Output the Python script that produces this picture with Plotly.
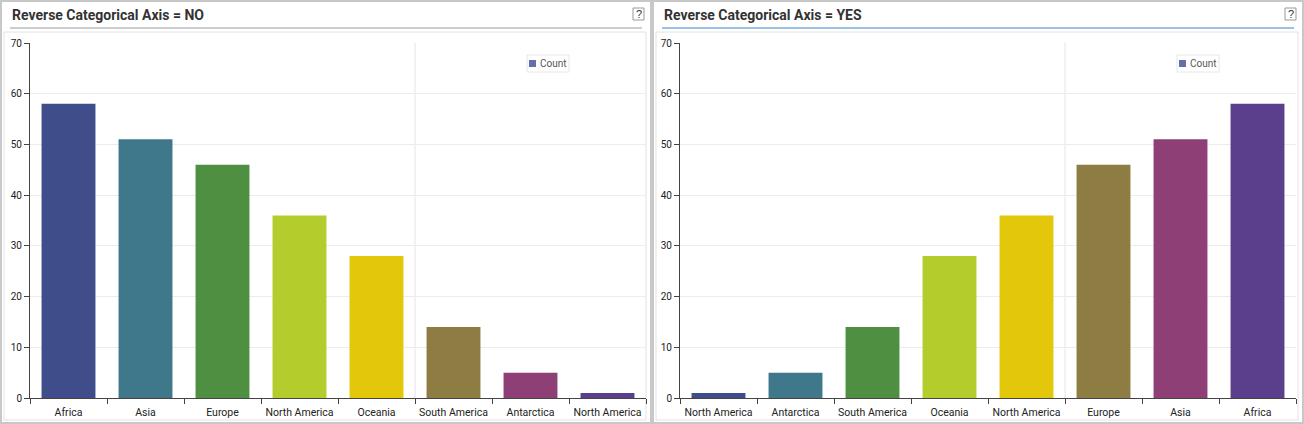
import plotly.graph_objects as go

categories = ["Africa", "Asia", "Europe", "North America", "Oceania",
              "South America", "Antarctica", "North America"]
counts = [58, 51, 46, 36, 28, 14, 5, 1]
colors = ["#3F4E8A", "#3F788A", "#4F8F41", "#B4CD2C", "#E3C70A",
          "#8E7D42", "#8E3F75", "#5B3F8C"]
titles = ["Reverse Categorical Axis = NO", "Reverse Categorical Axis = YES"]
legend_color = "#6670A8"
y_ticks = [0, 10, 20, 30, 40, 50, 60, 70]

W, H = 1304, 424
def px(x):
    return x / W
def py(y):
    return 1 - y / H

fig = go.Figure()
panels = [
    dict(cats=categories, vals=counts, xa="x", ya="y", x0=0, axx=30),
    dict(cats=categories[::-1], vals=counts[::-1], xa="x2", ya="y2", x0=652, axx=680),
]
n = len(categories)
shapes = []
annotations = []
for i, p in enumerate(panels):
    xs = list(range(n))
    fig.add_trace(go.Bar(x=xs, y=p["vals"], marker=dict(color=colors, line=dict(width=0)),
                         width=0.70, xaxis=p["xa"], yaxis=p["ya"], showlegend=False,
                         hovertemplate="%{text}: %{y}<extra></extra>", text=p["cats"],
                         textposition="none"))
    ax_suffix = "" if i == 0 else "2"
    fig.update_layout(**{
        "xaxis" + ax_suffix: dict(
            domain=[px(p["axx"]), px(p["axx"] + 616)], anchor="y" + ax_suffix,
            range=[-0.5, n - 0.5], tickmode="array", tickvals=xs, ticktext=p["cats"],
            ticks="", showgrid=False, zeroline=False, showline=True, linecolor="#444",
            linewidth=1, tickfont=dict(family="Roboto, Arial", size=10.5, color="#222"),
            ticklabelstandoff=4,
            minor=dict(tickmode="array", tickvals=[k - 0.5 for k in range(n + 1)],
                       ticks="outside", ticklen=5, tickcolor="#444", showgrid=False),
            automargin=False, fixedrange=True),
        "yaxis" + ax_suffix: dict(
            domain=[py(398), py(43)], anchor="x" + ax_suffix, range=[0, 70],
            tickmode="array", tickvals=y_ticks, ticks="outside", ticklen=5,
            tickcolor="#444", showline=True, linecolor="#444", linewidth=1,
            gridcolor="#ECECEC", zeroline=False,
            tickfont=dict(family="Roboto, Arial", size=10, color="#222"),
            automargin=False, fixedrange=True),
    })
    x0 = p["x0"]
    # panel frame
    shapes.append(dict(type="rect", xref="paper", yref="paper", x0=px(x0 + 1), x1=px(x0 + 651),
                       y0=py(423), y1=py(1), line=dict(color="#C8C8C8", width=2), layer="below"))
    shapes.append(dict(type="rect", xref="paper", yref="paper", x0=px(x0 + 4), x1=px(x0 + 646),
                       y0=py(420), y1=py(32), line=dict(color="#E2E2E2", width=1), layer="below"))
    shapes.append(dict(type="line", xref="paper", yref="paper", x0=px(x0 + 10), x1=px(x0 + 642),
                       y0=py(28), y1=py(28),
                       line=dict(color="#999999" if i == 0 else "#3A86C8", width=1)))
    # vertical gridline
    shapes.append(dict(type="line", xref=p["xa"], yref="paper", x0=4.5, x1=4.5,
                       y0=py(398), y1=py(43), line=dict(color="#E4E4E4", width=1), layer="below"))
    # help icon
    shapes.append(dict(type="rect", xref="paper", yref="paper", x0=px(x0 + 633), x1=px(x0 + 644),
                       y0=py(20), y1=py(8), line=dict(color="#999", width=1), fillcolor="white"))
    annotations.append(dict(text="?", xref="paper", yref="paper", x=px(x0 + 638.5), y=py(14),
                            showarrow=False, font=dict(family="Arial", size=11, color="#333"),
                            xanchor="center", yanchor="middle"))
    # title
    annotations.append(dict(text="<b>" + titles[i] + "</b>", xref="paper", yref="paper",
                            x=px(x0 + 10), y=py(15), xanchor="left", yanchor="middle",
                            showarrow=False, font=dict(family="Roboto, Arial", size=14, color="#333")))
    # legend box
    lx = x0 + 527 - (0 if i == 0 else 2)
    shapes.append(dict(type="rect", xref="paper", yref="paper", x0=px(lx), x1=px(lx + 42),
                       y0=py(72), y1=py(55), line=dict(color="#E6E6E6", width=1), fillcolor="white"))
    shapes.append(dict(type="rect", xref="paper", yref="paper", x0=px(lx + 2), x1=px(lx + 9),
                       y0=py(67), y1=py(60), line=dict(width=0), fillcolor=legend_color))
    annotations.append(dict(text="Count", xref="paper", yref="paper", x=px(lx + 11), y=py(63.5),
                            xanchor="left", yanchor="middle", showarrow=False,
                            font=dict(family="Roboto, Arial", size=10, color="#555")))

fig.update_layout(width=W, height=H, margin=dict(l=0, r=0, t=0, b=0),
                  paper_bgcolor="white", plot_bgcolor="white", bargap=0.3,
                  shapes=shapes, annotations=annotations, showlegend=False)
fig.write_html("out.html")
